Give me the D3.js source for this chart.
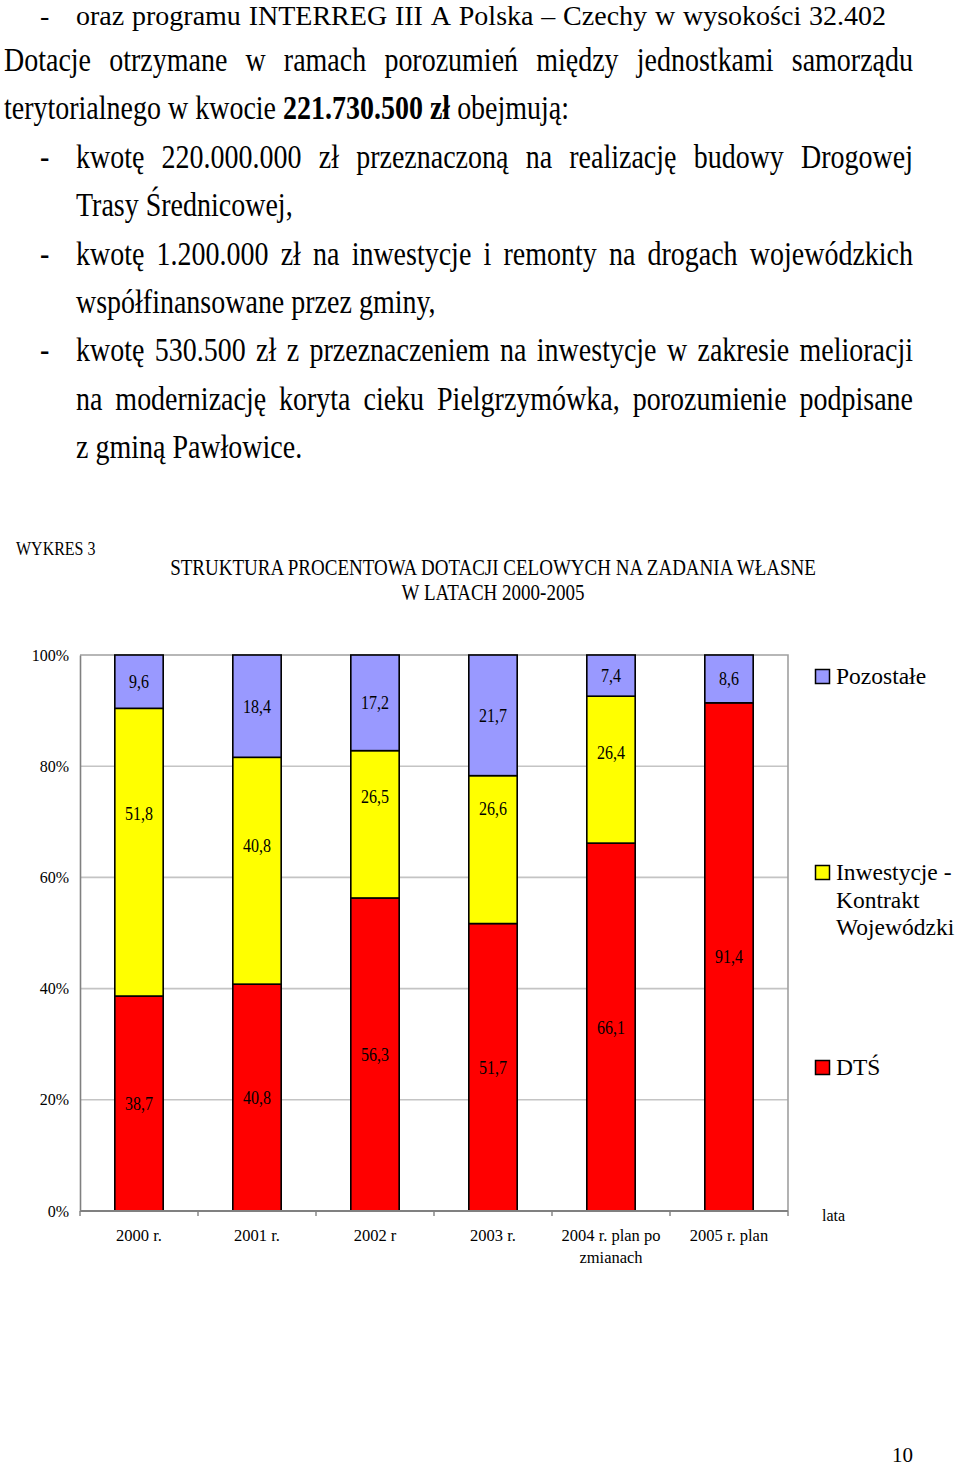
<!DOCTYPE html>
<html>
<head>
<meta charset="utf-8">
<script src="https://cdn.jsdelivr.net/npm/d3@7"></script>
<style>
  html, body { margin: 0; padding: 0; background: #fff; }
  svg { display: block; }
  text { font-family: "Liberation Serif", "Times New Roman", serif; fill: #000; }
</style>
</head>
<body>
<svg id="page" width="960" height="1469"></svg>
<script>
// ---------------- DATA ----------------
const categories = ["2000 r.", "2001 r.", "2002 r", "2003 r.", "2004 r. plan po\nzmianach", "2005 r. plan"];
const seriesNames = ["DTŚ", "Inwestycje - Kontrakt Wojewódzki", "Pozostałe"];
const dtsValues        = [38.7, 40.8, 56.3, 51.7, 66.1, 91.4];
const inwestycjeValues = [51.8, 40.8, 26.5, 26.6, 26.4, 0];
const pozostaleValues  = [9.6, 18.4, 17.2, 21.7, 7.4, 8.6];
// manually placed labels of the yellow series (in % of the axis), as in the original
const inwestycjeLabelAt = [71.4, 65.8, 74.5, 72.3, 82.4, null];
const yTickValues = [0, 0.2, 0.4, 0.6, 0.8, 1];
const legendLabels = [["Pozostałe"], ["Inwestycje -", "Kontrakt", "Wojewódzki"], ["DTŚ"]];
const xAxisTitle = "lata";
const chartCaption = "WYKRES 3";
const chartTitle = ["STRUKTURA PROCENTOWA DOTACJI CELOWYCH NA ZADANIA WŁASNE", "W LATACH 2000-2005"];

const paragraphLines = [
  {dash: true,  x: 76, right: 886, justify: true,  text: "oraz programu INTERREG III A Polska – Czechy w wysokości 32.402"},
  {dash: false, x: 4,  right: 913, justify: true,  text: "Dotacje otrzymane w ramach porozumień między jednostkami samorządu"},
  {dash: false, x: 4,  justify: false, text: "terytorialnego w kwocie 221.730.500 zł obejmują:", bold: ["221.730.500", "zł"]},
  {dash: true,  x: 76, right: 913, justify: true,  text: "kwotę 220.000.000 zł przeznaczoną na realizację budowy Drogowej"},
  {dash: false, x: 76, justify: false, text: "Trasy Średnicowej,"},
  {dash: true,  x: 76, right: 913, justify: true,  text: "kwotę 1.200.000 zł na inwestycje i remonty na drogach wojewódzkich"},
  {dash: false, x: 76, justify: false, text: "współfinansowane przez gminy,"},
  {dash: true,  x: 76, right: 913, justify: true,  text: "kwotę 530.500 zł z przeznaczeniem na inwestycje w zakresie melioracji"},
  {dash: false, x: 76, right: 913, justify: true,  text: "na modernizację koryta cieku Pielgrzymówka, porozumienie podpisane"},
  {dash: false, x: 76, justify: false, text: "z gminą Pawłowice."}
];
const pageNumber = "10";

// ---------------- PAGE TEXT ----------------
const svg = d3.select("#page");
svg.append("rect").attr("width", 960).attr("height", 1469).attr("fill", "#fff");

const paraFont = 28, paraStretch = 1.18, lineStep = 48.4, firstBaseline = 22.5;
paragraphLines.forEach((ln, i) => {
  // the first line sits at the very top of the page: keep it unstretched so it is not clipped
  const base = i === 0 ? 25 : firstBaseline + i * lineStep;
  const stretch = i === 0 ? 1 : paraStretch;
  const g = svg.append("g")
    .attr("transform", `translate(0,${base}) scale(1,${stretch})`)
    .style("font-size", paraFont + "px");
  if (ln.dash) g.append("text").attr("x", 40).attr("y", 0).text("-");
  const words = ln.text.split(" ");
  const bold = new Set(ln.bold || []);
  const nodes = words.map(w => g.append("text").attr("y", 0)
      .attr("font-weight", bold.has(w) ? "bold" : null).text(w));
  const widths = nodes.map(n => n.node().getComputedTextLength());
  const total = d3.sum(widths);
  let gap = 0.25 * paraFont;
  if (ln.justify && words.length > 1) gap = (ln.right - ln.x - total) / (words.length - 1);
  let cx = ln.x;
  nodes.forEach((n, k) => { n.attr("x", cx); cx += widths[k] + gap; });
});

// chart caption and title
svg.append("text").attr("x", 16).attr("y", 555).style("font-size", "16px")
  .attr("transform", "translate(0,555) scale(1,1.2) translate(0,-555)").text(chartCaption);
chartTitle.forEach((t, i) => {
  const yb = 575 + i * 25;
  svg.append("text").attr("x", 493).attr("y", yb).attr("text-anchor", "middle")
    .style("font-size", "19px")
    .attr("transform", `translate(0,${yb}) scale(1,1.25) translate(0,${-yb})`)
    .text(t);
});

// ---------------- CHART ----------------
const plot = {left: 80, right: 788, top: 655, bottom: 1211};

const rows = categories.map((c, i) => ({
  cat: c,
  [seriesNames[0]]: dtsValues[i],
  [seriesNames[1]]: inwestycjeValues[i],
  [seriesNames[2]]: pozostaleValues[i]
}));
const stacked = d3.stack().keys(seriesNames).offset(d3.stackOffsetExpand)(rows);

const x = d3.scaleBand().domain(categories).range([plot.left, plot.right])
  .paddingInner(0.59).paddingOuter(0.295);
const y = d3.scaleLinear().domain([0, 1]).range([plot.bottom, plot.top]);
const color = d3.scaleOrdinal().domain(seriesNames).range(["#FF0000", "#FFFF00", "#9999FF"]);

// gridlines
svg.append("g").selectAll("line").data(yTickValues.filter(v => v > 0 && v < 1)).join("line")
  .attr("x1", plot.left).attr("x2", plot.right)
  .attr("y1", d => y(d)).attr("y2", d => y(d))
  .attr("stroke", "#c4c4c4").attr("stroke-width", 1.6);

// plot border (top and right)
svg.append("path")
  .attr("d", `M${plot.left},${y(1)}H${plot.right}V${plot.bottom}`)
  .attr("fill", "none").attr("stroke", "#a0a0a0").attr("stroke-width", 1.6);

// y axis
const yAxis = svg.append("g").attr("transform", `translate(${plot.left},0)`)
  .call(d3.axisLeft(y).tickValues(yTickValues).tickFormat(d3.format(".0%")).tickSize(0).tickPadding(11));
yAxis.select(".domain").attr("stroke", "#808080").attr("stroke-width", 1.6);
yAxis.selectAll("text").style("font-family", "'Liberation Serif', serif").style("font-size", "16px").attr("fill", "#000");

// bars
const fmt = d3.formatLocale({decimal: ",", thousands: " ", grouping: [3], currency: ["", ""]}).format(".1f");
const layers = svg.append("g").selectAll("g").data(stacked).join("g").attr("fill", d => color(d.key));
layers.selectAll("rect").data(d => d.map(p => ({p, key: d.key}))).join("rect")
  .filter(d => d.p[1] - d.p[0] > 0)
  .attr("x", d => x(d.p.data.cat))
  .attr("width", x.bandwidth())
  .attr("y", d => y(d.p[1]))
  .attr("height", d => y(d.p[0]) - y(d.p[1]))
  .attr("stroke", "#000").attr("stroke-width", 1.6);

// bottom axis line and tick marks at category boundaries
svg.append("line").attr("x1", plot.left).attr("x2", plot.right)
  .attr("y1", plot.bottom).attr("y2", plot.bottom)
  .attr("stroke", "#808080").attr("stroke-width", 2);
svg.append("g").selectAll("line").data(d3.range(categories.length + 1)).join("line")
  .attr("x1", i => plot.left + i * x.step()).attr("x2", i => plot.left + i * x.step())
  .attr("y1", plot.bottom).attr("y2", plot.bottom + 5)
  .attr("stroke", "#808080").attr("stroke-width", 1.4);

// category labels
const catG = svg.append("g");
categories.forEach(c => {
  c.split("\n").forEach((part, k) => {
    catG.append("text").attr("x", x(c) + x.bandwidth() / 2).attr("y", 1241 + k * 22)
      .attr("text-anchor", "middle").style("font-size", "16.5px").text(part);
  });
});

// value labels
const labelG = svg.append("g");
stacked.forEach((layer, si) => {
  layer.forEach((p, ci) => {
    const v = rows[ci][layer.key];
    if (!v) return;
    let pos = (p[0] + p[1]) / 2;
    if (si === 1 && inwestycjeLabelAt[ci] != null) pos = inwestycjeLabelAt[ci] / 100;
    const cx = x(p.data.cat) + x.bandwidth() / 2, cy = y(pos);
    labelG.append("text")
      .attr("transform", `translate(${cx},${cy}) scale(1,1.15)`)
      .attr("text-anchor", "middle").attr("dy", "0.35em")
      .style("font-size", "16px")
      .attr("fill", si === 0 ? "#3a0000" : (si === 2 ? "#000033" : "#000"))
      .text(fmt(v));
  });
});

// x axis title
svg.append("text").attr("x", 822).attr("y", 1221).style("font-size", "16px").text(xAxisTitle);

// legend (top to bottom: Pozostałe, Inwestycje, DTŚ)
const legendKeys = [seriesNames[2], seriesNames[1], seriesNames[0]];
const legendBaselines = [684, 880, 1075];
legendKeys.forEach((k, i) => {
  const b = legendBaselines[i];
  svg.append("rect").attr("x", 815.5).attr("y", b - 14.5).attr("width", 14).attr("height", 14)
    .attr("fill", color(k)).attr("stroke", "#000").attr("stroke-width", 1.5);
  legendLabels[i].forEach((t, j) => {
    svg.append("text").attr("x", 836).attr("y", b + j * 27.5).style("font-size", "23.5px").text(t);
  });
});

// page number
svg.append("text").attr("x", 892).attr("y", 1462).style("font-size", "21px").text(pageNumber);
</script>
</body>
</html>
